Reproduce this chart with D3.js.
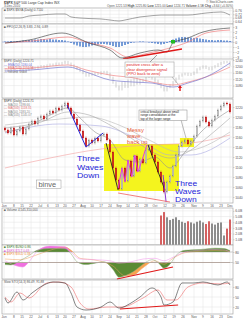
<!DOCTYPE html>
<html>
<head>
<meta charset="utf-8">
<script src="https://cdn.jsdelivr.net/npm/d3@7"></script>
<style>
  body { margin: 0; background: #fff; }
  svg { display: block; font-family: "Liberation Sans", Arial, sans-serif; }
</style>
</head>
<body>
<svg id="chart" width="245" height="320"></svg>
<script>
// ---- data ----
const closes = [1174, 1168, 1178, 1164, 1172, 1180, 1166, 1176, 1186, 1192,
  1186, 1198, 1202, 1196, 1206, 1212, 1208, 1218, 1214, 1222,
  1228, 1218, 1206, 1196, 1184, 1172, 1158, 1142, 1154, 1148,
  1158, 1152, 1164, 1166, 1154, 1130, 1098, 1074, 1056, 1098,
  1072, 1112, 1082, 1122, 1092, 1116, 1108, 1134, 1142, 1124,
  1110, 1090, 1070, 1050, 1070, 1082, 1102, 1124, 1142, 1150,
  1154, 1146, 1152, 1162, 1182, 1192, 1200, 1190, 1182, 1194,
  1202, 1214, 1222, 1228, 1226, 1210];

const tickBars = [-0.3, 3, 5.7, 8.7, 11.7, 14.3, 17.3, 20, 23, 26, 29, 32, 35, 38,
  41, 44, 47, 50, 53.3, 56.3, 59.3, 63, 66, 69, 72, 75];
const tickLabels = ["Jun", "8", "15", "22", "Jul", "6", "13", "20", "27", "Aug", "10", "17", "24", "Sep",
  "14", "21", "28", "Oct", "12", "19", "26", "Nov", "9", "16", "23", "Dec"];

// main panel moving averages [bar, price]
const ma20 = [[0, 1170], [8, 1182], [15, 1204], [21, 1218], [25, 1198], [30, 1170], [35, 1154], [40, 1114], [45, 1110], [50, 1120], [55, 1098], [60, 1130], [65, 1168], [70, 1194], [75, 1214]];
const ma50 = [[0, 1178], [12, 1190], [21, 1210], [28, 1204], [35, 1184], [42, 1158], [48, 1134], [55, 1118], [62, 1134], [68, 1162], [75, 1198]];
const ma100 = [[0, 1184], [15, 1194], [28, 1200], [38, 1184], [48, 1154], [58, 1130], [65, 1138], [75, 1170]];
const ma200 = [[0, 1098], [15, 1118], [32, 1136], [48, 1144], [62, 1148], [75, 1164]];
const maBlue = [[0, 1168], [18, 1186], [32, 1182], [45, 1154], [55, 1124], [62, 1124], [75, 1158]];

// top ratio panel [bar, value]
const ratio = [[0, 0.677], [5, 0.677], [8, 0.70], [12, 0.711], [17, 0.723], [20, 0.723], [22, 0.689], [25, 0.677], [28, 0.671], [32, 0.666], [35, 0.654], [38, 0.643], [40, 0.654], [45, 0.689], [48, 0.70], [52, 0.711], [56, 0.711], [61, 0.711], [67, 0.734], [72, 0.746], [75, 0.711]];

// PPO panel
const ppo = [[0, -0.2], [8, 0.4], [19, 1.8], [28, -0.2], [35, -1.6], [39, -3.2], [45, -2.2], [51, -1.6], [54, -2.0], [56, -0.2], [61, 0.8], [66, 2.0], [75, 2.8]];
const ppoSignal = [[0, -0.2], [9, 0.2], [21, 1.0], [27, 0.0], [35, -1.2], [41, -3.0], [48, -2.2], [55, -1.2], [61, 0.0], [67, 1.8], [75, 2.4]];
const ppoHist = [0.1, 0.1, 0.2, 0.1, 0.2, 0.2, 0.3, 0.3,
  0.4, 0.4, 0.5, 0.5, 0.6, 0.6, 0.5, 0.6, 0.5, 0.5, 0.4, 0.4,
  0.3, 0.1, -0.2, -0.5, -0.7, -0.9, -1.0, -1.0, -0.9, -0.7, -0.6, -0.5,
  -0.4, -0.4, -0.5, -0.6, -0.8, -1.0, -1.0, -0.8, -0.6, -0.4, -0.2, -0.1,
  0.0, 0.1, 0.1, 0.0, -0.1, -0.2, -0.3, -0.4, -0.5, -0.4, -0.2, 0.2,
  0.5, 0.7, 0.9, 1.0, 1.0, 0.9, 0.9, 0.8, 0.8, 0.7, 0.6, 0.5,
  0.4, 0.4, 0.3, 0.4, 0.4, 0.3, 0.3, 0.2];

// second price panel averages
const pinkAvg = [[0, 1184], [9, 1190], [21, 1209], [27, 1178], [35, 1146], [43, 1128], [49, 1102], [56, 1084], [61, 1102], [67, 1134], [75, 1196]];
const blueAvg = [[0, 1171], [9, 1178], [21, 1196], [27, 1165], [35, 1115], [43, 1102], [49, 1096], [56, 1071], [61, 1096], [67, 1134], [75, 1221]];

// volume (billions) from bar 52 on
const volStart = 52;
const volumes = [5.2, 5.8, 4.9, 4.4, 4.6, 4.9, 4.4, 4.1, 3.9, 4.2, 4.0, 3.8,
  4.1, 4.3, 4.0, 3.7, 4.2, 3.8, 3.6, 3.9, 4.0, 1.7, 2.9, 4.5];

// relative-strength panel (0-100), filled beyond the 80 / 50 levels
const oscLevels = [80, 50];
const oscOlive = [[0, 44], [2, 43], [5, 55], [8, 70], [11, 86], [15, 90], [20, 89], [22, 75], [24, 52], [27, 44], [30, 48], [33, 52], [36, 30], [38, 8], [40, 12], [43, 25], [46, 45], [49, 58], [51, 50], [53, 34], [55, 45], [57, 70], [60, 85], [65, 87], [70, 91], [73, 90], [75, 84]];
const oscPink = [[0, 55], [4, 40], [6, 37], [8, 52], [11, 85], [15, 97], [20, 95], [22, 80], [25, 60], [30, 58], [35, 55], [38, 48], [42, 52], [46, 60], [50, 62], [53, 55], [56, 65], [60, 80], [65, 85], [70, 87], [73, 86], [75, 80]];
const oscOrange = [[0, 60], [5, 58], [10, 70], [15, 85], [20, 94], [22, 85], [25, 62], [30, 57], [36, 40], [40, 12], [43, 15], [46, 35], [50, 55], [53, 45], [56, 62], [60, 78], [65, 82], [70, 84], [75, 82]];

// stochastics
const stochK = [[0, 47], [1, 32], [4, 65], [6, 41], [9, 62], [13, 86], [16, 95], [20, 92], [22, 62], [24, 20], [27, 11], [32, 20], [35, 35], [38, 17], [42, 32], [45, 50], [49, 77], [52, 50], [53, 26], [56, 35], [59, 92], [63, 92], [66, 95], [71, 86], [74, 95], [75, 86]];
const stochD = [[0, 50], [2, 35], [5, 62], [8, 47], [14, 92], [18, 95], [22, 80], [25, 32], [28, 14], [34, 20], [39, 20], [46, 47], [51, 71], [54, 41], [57, 41], [61, 80], [66, 92], [72, 89], [75, 92]];

// hand-drawn annotations [bar, value]
const wave1 = [[20.7, 1224], [27, 1140], [32.7, 1168]];
const drop1 = [[33.7, 1148], [37.7, 1054]];
const drop2 = [[47.7, 1144], [53.3, 1054]];
const messy = [[37.7, 1058], [39, 1098], [40, 1070], [41, 1114], [42.3, 1080], [43.3, 1124], [44.3, 1090], [45.7, 1114], [47.3, 1144]];
const spike = [[52.7, 1084], [53.7, 1030]];
const lowLine = [[37.7, 1048], [55, 1030]];
const bigRange = { x0: 33, x1: 58, top: 1146, bottom: 1052 };
const smallRange = { x0: 58.3, x1: 63, top: 1158, bottom: 1140 };
const ppoDiv = [[39.3, -3.4], [59, -1.4]];
const oscDiv = [[37.3, 3], [56, 37]];
const stochDiv = [[38.3, 14], [57.7, 26]];

// ---- drawing ----
const svg = d3.select('#chart');
const defs = svg.append('defs');
const L = 2, R = 233;
const x = d3.scaleLinear().domain([0, 75]).range([5, 230]);

function panel(top, bottom, y, ticks, fmt) {
  const g = svg.append('g');
  g.append('rect').attr('x', L).attr('y', top).attr('width', R - L).attr('height', bottom - top)
    .attr('fill', '#fff').attr('stroke', '#9a9a9a').attr('stroke-width', 0.6);
  g.selectAll('.vg').data(tickBars).enter().append('line')
    .attr('x1', d => x(d)).attr('x2', d => x(d)).attr('y1', top).attr('y2', bottom)
    .attr('stroke', '#e2e2e2').attr('stroke-width', 0.5);
  if (y) {
    g.selectAll('.hg').data(ticks).enter().append('line')
      .attr('x1', L).attr('x2', R).attr('y1', d => y(d)).attr('y2', d => y(d))
      .attr('stroke', '#e2e2e2').attr('stroke-width', 0.5);
    const ax = svg.append('g').attr('transform', `translate(${R},0)`)
      .call(d3.axisRight(y).tickValues(ticks).tickSize(1.5).tickFormat(fmt));
    ax.select('.domain').remove();
    ax.selectAll('line').attr('stroke', '#999').attr('stroke-width', 0.4);
    ax.selectAll('text').attr('font-size', 3.4).attr('fill', '#555').attr('x', 2.2);
  }
  return g;
}

function legend(lines, xPos, yPos) {
  svg.selectAll(null).data(lines).enter().append('text')
    .attr('x', xPos).attr('y', (d, i) => yPos + i * 3.6)
    .attr('font-size', 3.1).attr('fill', d => d[1]).text(d => d[0]);
}

const line = (y, c = d3.curveMonotoneX) => d3.line().x(d => x(d[0])).y(d => y(d[1])).curve(c);
const straight = y => d3.line().x(d => x(d[0])).y(d => y(d[1]));

function xLabels(yPos) {
  svg.selectAll(null).data(tickBars).enter().append('text')
    .attr('x', d => x(d)).attr('y', yPos).attr('text-anchor', 'middle')
    .attr('font-size', 3.2).attr('fill', '#555').text((d, i) => tickLabels[i]);
}

function multiText(lines, xPos, y0, step, size, color, sx = 1) {
  const t = svg.append('text').attr('font-size', size).attr('fill', color)
    .attr('transform', `translate(${xPos},0) scale(${sx},1)`);
  lines.forEach((s, i) => {
    t.append('tspan').attr('x', 0).attr('y', y0 + i * step).text(s);
  });
}

// header
svg.append('text').attr('x', 4).attr('y', 3.6).attr('font-size', 3.4).attr('fill', '#333')
  .html('<tspan font-weight="bold">$SPX</tspan> S&amp;P 500 Large Cap Index INX');
svg.append('text').attr('x', 4).attr('y', 7).attr('font-size', 3.1).attr('fill', '#555').text('3-Dec-2010');
svg.append('text').attr('x', R).attr('y', 3).attr('font-size', 3.1).attr('fill', '#555')
  .attr('text-anchor', 'end').text('© StockCharts.com');
svg.append('text').attr('x', R).attr('y', 6.6).attr('font-size', 3.1).attr('fill', '#555')
  .attr('text-anchor', 'end')
  .html('Open 1221.53 <tspan font-weight="bold">High</tspan> 1225.80 <tspan font-weight="bold">Low</tspan> 1215.00 <tspan font-weight="bold">Last</tspan> 1224.71 <tspan font-weight="bold">Volume</tspan> 4.5B <tspan font-weight="bold">Chg</tspan> +3.64 (+0.30%)');

// panel A: ratio
const yA = d3.scaleLinear().domain([0.62, 0.78]).range([23, 9]);
panel(8, 24, yA, [0.76, 0.72, 0.68, 0.64], d3.format('.2f'));
legend([['\u25A0 $SPX:$NYA (Daily) 0.7110', '#555']], 4, 11);
svg.append('path').datum(ratio).attr('d', line(yA)).attr('fill', 'none').attr('stroke', '#666').attr('stroke-width', 0.6);

// panel B: PPO
const yB = d3.scaleLinear().domain([-3.4, 3.4]).range([59, 25]);
panel(24, 60, yB, [3, 2, 1, 0, -1, -2, -3], d3.format('d'));
svg.append('line').attr('x1', L).attr('x2', R).attr('y1', yB(0)).attr('y2', yB(0)).attr('stroke', '#8aa0d8').attr('stroke-width', 0.6);
svg.selectAll('.hist').data(ppoHist).enter().append('rect')
  .attr('x', (d, i) => x(i) - 0.7).attr('width', 1.4)
  .attr('y', d => yB(Math.max(0, d))).attr('height', d => Math.abs(yB(d) - yB(0)))
  .attr('fill', '#3e74c8');
svg.append('path').datum(ppoSignal).attr('d', line(yB)).attr('fill', 'none').attr('stroke', '#f08080').attr('stroke-width', 0.7);
svg.append('path').datum(ppo).attr('d', line(yB)).attr('fill', 'none').attr('stroke', '#333').attr('stroke-width', 0.6);
svg.append('rect').attr('x', x(56) - 2).attr('y', yB(0) - 2).attr('width', 4).attr('height', 3.5).attr('fill', '#22bb22');
svg.append('path').datum(ppoDiv).attr('d', straight(yB)).attr('stroke', '#e01818').attr('stroke-width', 1.3);
legend([['\u25A0 PPO(12,26,9) 3.83, 2.94, 0.89', '#555']], 4, 27.5);

// panel C: second price panel
const yC = d3.scaleLinear().domain([1040, 1240]).range([92, 60]);
panel(59, 98, yC, [1240, 1200, 1160, 1120, 1080], d3.format('d'));
svg.selectAll('.cbar').data(closes).enter().append('line')
  .attr('x1', (d, i) => x(i)).attr('x2', (d, i) => x(i))
  .attr('y1', (d, i) => yC(Math.max(d, i ? closes[i - 1] : d)) - 1)
  .attr('y2', (d, i) => yC(Math.min(d, i ? closes[i - 1] : d)) + 1)
  .attr('stroke', '#b0b0b0').attr('stroke-width', 0.6);
svg.append('path').datum(pinkAvg).attr('d', line(yC)).attr('fill', 'none').attr('stroke', '#f08888').attr('stroke-width', 0.7);
svg.append('path').datum(blueAvg).attr('d', line(yC)).attr('fill', 'none').attr('stroke', '#7878d0').attr('stroke-width', 0.7);
legend([['$SPX (Daily) 1224.71', '#555'], ['— EMA(50) 1180.04', '#6b6bd0'], ['— EMA(100) 1152.56', '#e06060'], ['— Volume undef', '#777']], 4, 62);

// annotation box in panel C
svg.append('line').attr('x1', 150).attr('y1', 62).attr('x2', 157).attr('y2', 55).attr('stroke', '#444').attr('stroke-width', 0.5);
svg.append('line').attr('x1', 172).attr('y1', 77).attr('x2', 178).attr('y2', 84).attr('stroke', '#888').attr('stroke-width', 0.5);
svg.append('rect').attr('x', 125).attr('y', 62).attr('width', 49).attr('height', 15)
  .attr('fill', '#fff').attr('stroke', '#999').attr('stroke-width', 0.5);
multiText(['positive cross after a', 'clear divergence signal', '(PPO back to zero)'], 126.5, 66.5, 4.3, 3.8, '#e02020', 1.05);
svg.append('path').attr('d', 'M180,85 L178,88 L179.3,88 L179.3,91 L180.7,91 L180.7,88 L182,88 Z').attr('fill', '#e01818');

// panel D: main price
const yD = d3.scaleLinear().domain([1030, 1240]).range([202, 97]);
panel(99, 203, yD, d3.range(1040, 1221, 20), d3.format('d'));

svg.append('rect').attr('x', x(bigRange.x0)).attr('width', x(bigRange.x1) - x(bigRange.x0))
  .attr('y', yD(bigRange.top)).attr('height', yD(bigRange.bottom) - yD(bigRange.top)).attr('fill', '#f4f41e');
svg.append('rect').attr('x', x(smallRange.x0)).attr('width', x(smallRange.x1) - x(smallRange.x0))
  .attr('y', yD(smallRange.top)).attr('height', yD(smallRange.bottom) - yD(smallRange.top)).attr('fill', '#f4f41e');

[[ma200, '#f4a0a0'], [maBlue, '#a8a8e0'], [ma100, '#b8b8b8'], [ma50, '#a8a8a8'], [ma20, '#909090']].forEach(m => {
  svg.append('path').datum(m[0]).attr('d', line(yD)).attr('fill', 'none').attr('stroke', m[1]).attr('stroke-width', 0.6);
});

const candles = closes.map((c, i) => ({ i, c, o: i ? closes[i - 1] : c + 4 }));
svg.selectAll('.wick').data(candles).enter().append('line')
  .attr('x1', d => x(d.i)).attr('x2', d => x(d.i))
  .attr('y1', d => yD(Math.max(d.o, d.c)) - 1.5).attr('y2', d => yD(Math.min(d.o, d.c)) + 1.5)
  .attr('stroke', d => d.c < d.o ? '#c81818' : '#777').attr('stroke-width', 0.4);
svg.selectAll('.body').data(candles).enter().append('rect')
  .attr('x', d => x(d.i) - 0.8).attr('width', 1.6)
  .attr('y', d => yD(Math.max(d.o, d.c)))
  .attr('height', d => Math.max(1, Math.abs(yD(d.o) - yD(d.c))))
  .attr('fill', d => d.c < d.o ? '#d42020' : '#d8d8d8')
  .attr('stroke', d => d.c < d.o ? '#b01010' : '#777').attr('stroke-width', 0.3);

legend([['$SPX (Daily) 1224.71', '#444'], ['— MA(20) 1198.66', '#888'], ['— MA(200) 1118.31', '#e07070'], ['— MA(50) 1183.20', '#888'], ['— MA(100) 1145.07', '#888']], 4, 102);

// hand-drawn waves
svg.append('path').datum(wave1).attr('d', straight(yD)).attr('fill', 'none').attr('stroke', '#2a2ad8').attr('stroke-width', 1);
[drop1, drop2].forEach(d => {
  svg.append('path').datum(d).attr('d', straight(yD)).attr('fill', 'none').attr('stroke', '#222').attr('stroke-width', 0.9);
});
svg.append('path').datum(messy).attr('d', straight(yD)).attr('fill', 'none').attr('stroke', '#e040e0').attr('stroke-width', 1);
svg.append('path').datum(spike).attr('d', straight(yD)).attr('fill', 'none').attr('stroke', '#8a3ad0').attr('stroke-width', 1);
svg.append('path').datum(lowLine).attr('d', straight(yD)).attr('fill', 'none').attr('stroke', '#f06060').attr('stroke-width', 0.8);

multiText(['Three', 'Waves', 'Down'], 77, 161, 8.6, 7.6, '#2626d9', 1.15);
multiText(['Three', 'Waves', 'Down'], 175, 186, 8.1, 7.1, '#2626d9', 1.2);
multiText(['Messy', 'wave,', 'back up'], 127, 132, 6.2, 5.4, '#e8603a', 1.08);

svg.append('rect').attr('x', 36.5).attr('y', 180).attr('width', 24.5).attr('height', 8.5)
  .attr('fill', '#fff').attr('stroke', '#999').attr('stroke-width', 0.5);
svg.append('text').attr('x', 38.5).attr('y', 187).attr('font-size', 7.4).attr('fill', '#666').text('binve');

svg.append('line').attr('x1', 181).attr('y1', 120).attr('x2', 186).attr('y2', 138).attr('stroke', '#777').attr('stroke-width', 0.5);
svg.append('rect').attr('x', 139).attr('y', 110).attr('width', 48).attr('height', 10.5)
  .attr('fill', '#fff').attr('stroke', '#888').attr('stroke-width', 0.5);
multiText(['critical breakout above small', 'range consolidation at the', 'top of the larger range'], 140.5, 113.2, 3.3, 2.9, '#222', 1.05);

xLabels(207.2);

// panel E: volume
const yE = d3.scaleLinear().domain([0, 6.5]).range([245, 208]);
panel(208, 245, yE, [1, 2, 3, 4, 5, 6], d => d + '.0B');
svg.selectAll('.vol').data(volumes).enter().append('rect')
  .attr('x', (d, i) => x(i + volStart) - 1).attr('width', 2)
  .attr('y', d => yE(d)).attr('height', d => yE(0) - yE(d))
  .attr('fill', (d, i) => closes[i + volStart] < closes[i + volStart - 1] ? '#d05050' : '#808080')
  .attr('stroke', '#fff').attr('stroke-width', 0.2);
legend([['\u25A0 Volume 4,545,310,000', '#555']], 4, 211);

// panel F: three relative-strength lines, filled beyond the levels
const yF = d3.scaleLinear().domain([0, 100]).range([280, 245]);
panel(245, 279, yF, oscLevels, d3.format('d'));
defs.append('clipPath').attr('id', 'clipUp').append('rect')
  .attr('x', L).attr('y', 245).attr('width', R - L).attr('height', yF(oscLevels[0]) - 245);
defs.append('clipPath').attr('id', 'clipDn').append('rect')
  .attr('x', L).attr('y', yF(oscLevels[1])).attr('width', R - L).attr('height', 279 - yF(oscLevels[1]));
const oscSeries = [[oscOrange, '#f6a450', '#f0a060'], [oscPink, '#f070e0', '#f090e8'], [oscOlive, '#5a8a34', '#8aa878']];
oscSeries.forEach(s => {
  const up = d3.area().x(d => x(d[0])).y0(yF(oscLevels[0])).y1(d => yF(d[1])).curve(d3.curveMonotoneX);
  const dn = d3.area().x(d => x(d[0])).y0(yF(oscLevels[1])).y1(d => yF(d[1])).curve(d3.curveMonotoneX);
  svg.append('path').datum(s[0]).attr('d', up).attr('fill', s[1]).attr('clip-path', 'url(#clipUp)');
  svg.append('path').datum(s[0]).attr('d', dn).attr('fill', s[1]).attr('clip-path', 'url(#clipDn)');
});
oscSeries.forEach(s => {
  svg.append('path').datum(s[0]).attr('d', line(yF)).attr('fill', 'none').attr('stroke', s[2]).attr('stroke-width', 0.5);
});
oscLevels.forEach(v => {
  svg.append('line').attr('x1', L).attr('x2', R).attr('y1', yF(v)).attr('y2', yF(v)).attr('stroke', '#999').attr('stroke-width', 0.4);
});
svg.append('path').datum(oscDiv).attr('d', straight(yF)).attr('stroke', '#e01818').attr('stroke-width', 1.1);
legend([['\u25A0 $SPX:$USD 0.86', '#3a7a2a'], ['\u25A0 $SPX:$TLT 0.69', '#e060d0'], ['\u25A0 $SPX:$GLD 0.38', '#f09040']], 4, 248);

// panel G: stochastics
const yG = d3.scaleLinear().domain([0, 100]).range([313.7, 280.3]);
panel(280, 314, yG, [80, 50, 20], d3.format('d'));
svg.append('path').datum(stochD).attr('d', line(yG)).attr('fill', 'none').attr('stroke', '#f08080').attr('stroke-width', 0.7);
svg.append('path').datum(stochK).attr('d', line(yG)).attr('fill', 'none').attr('stroke', '#333').attr('stroke-width', 0.6);
svg.append('path').datum(stochDiv).attr('d', straight(yG)).attr('stroke', '#e01818').attr('stroke-width', 1.1);
legend([['Slow STO(14,3) 86.49, 91.88', '#555']], 4, 283);

xLabels(317.5);
</script>
</body>
</html>
